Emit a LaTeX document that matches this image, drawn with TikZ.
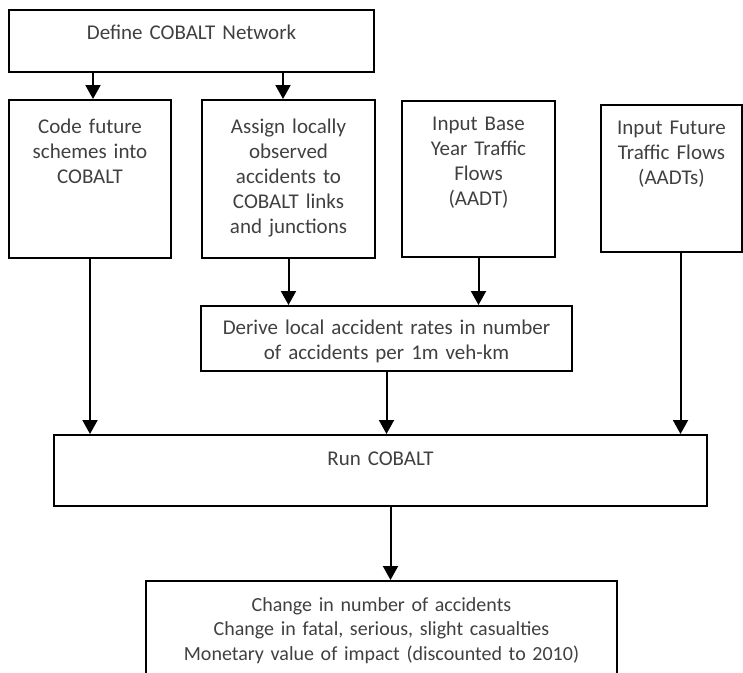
\documentclass[tikz,border=0pt]{standalone}
\usepackage{fontspec}
\setmainfont{Carlito}
\usetikzlibrary{arrows.meta}
\definecolor{flowText}{RGB}{64,64,64}

\begin{document}
\begin{tikzpicture}[x=1pt, y=-1pt,
    box/.style={draw, line width=2.2pt, inner sep=0pt, align=center, anchor=north, text=flowText, font=\fontsize{21}{25}\selectfont},
    flow/.style={-{Triangle[width=15pt,length=14pt]}, line width=2pt}]
    \useasboundingbox (0,0) rectangle (743,672);

    % Network definition
    \node[box, text width=365pt, text height=29pt, text depth=33pt] (define) at (191.5,9) {Define COBALT Network};

    % Inputs
    \node[box, text width=162pt, text height=33pt, text depth=125pt] (code) at (90,99) {Code future\\schemes into\\COBALT};
    \node[box, text width=173pt, text height=33pt, text depth=125pt] (assign) at (288.5,99) {Assign locally\\observed\\accidents to\\COBALT links\\and junctions};
    \node[box, text width=153pt, text height=29pt, text depth=127pt] (base) at (478.5,100) {Input Base\\Year Traffic\\Flows\\(AADT)};
    \node[box, text width=141pt, text height=29pt, text depth=118pt] (future) at (671.5,104) {Input Future\\Traffic Flows\\(AADTs)};

    % Local rates
    \node[box, text width=371pt, text height=28pt, text depth=37pt] (derive) at (386.5,305) {Derive local accident rates in number\\of accidents per 1m veh-km};

    % Model run and outputs
    \node[box, text width=653pt, text height=30pt, text depth=41pt] (run) at (380.5,434) {Run COBALT};
    \node[box, text width=471pt, text height=30pt, text depth=110pt, font=\fontsize{20}{24.5}\selectfont] (result) at (381.5,580) {Change in number of accidents\\Change in fatal, serious, slight casualties\\Monetary value of impact (discounted to 2010)};

    \draw[flow] ([xshift=3pt]code.north |- define.south) -- ([xshift=3pt]code.north);
    \draw[flow] ([xshift=-5.5pt]assign.north |- define.south) -- ([xshift=-5.5pt]assign.north);
    \draw[flow] (code.south) -- (code.south |- run.north);
    \draw[flow] (assign.south) -- (assign.south |- derive.north);
    \draw[flow] (base.south) -- (base.south |- derive.north);
    \draw[flow] (derive.south) -- (derive.south |- run.north);
    \draw[flow] ([xshift=9pt]future.south) -- ([xshift=9pt]future.south |- run.north);
    \draw[flow] ([xshift=10pt]run.south) -- ([xshift=10pt]run.south |- result.north);
\end{tikzpicture}
\end{document}
